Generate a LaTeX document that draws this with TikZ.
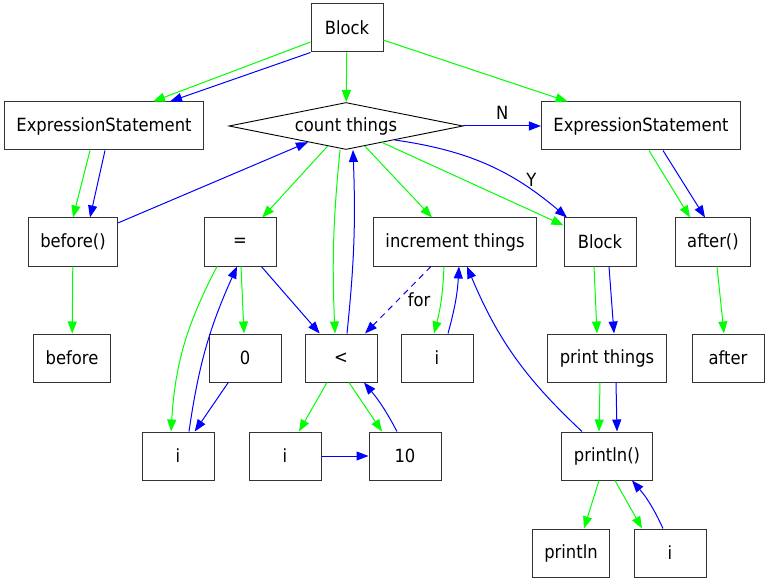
\documentclass[tikz,border=0pt]{standalone}
\usepackage{fontspec}
\setmainfont{DejaVu Sans}[FakeStretch=0.9]
\usetikzlibrary{shapes.geometric,arrows.meta}
\definecolor{astgreen}{RGB}{0,255,0}
\definecolor{cfgblue}{RGB}{0,0,255}

\begin{document}
\begin{tikzpicture}[x=1pt, y=-1pt,
    every node/.style={font=\fontsize{18.2}{22}\selectfont},
    box/.style={draw=black!80, line width=1pt, minimum width=72pt, minimum height=48pt, inner xsep=12pt},
    cond/.style={diamond, draw=black, line width=0.9pt, aspect=5, inner sep=2pt, minimum width=234pt, minimum height=47pt},
    ast/.style={draw=astgreen, line width=1pt, -{Triangle[length=12pt,width=9pt]}},
    cfg/.style={draw=cfgblue, line width=1pt, -{Triangle[length=12pt,width=9pt]}}]
  \useasboundingbox (0,0) rectangle (769,583);
  % nodes
  \node[box] (blk) at (347,28) {Block};
  \node[box] (exl) at (104,126) {ExpressionStatement};
  \node[cond] (ct) at (346,126) {count things};
  \node[box] (exr) at (641,126) {ExpressionStatement};
  \node[box] (bef) at (73,242) {before()};
  \node[box] (eq) at (240,242) {=};
  \node[box] (inc) at (455,242) {increment things};
  \node[box] (blk2) at (600,242) {Block};
  \node[box] (aft) at (713,242) {after()};
  \node[box] (befl) at (72,358) {before};
  \node[box] (zero) at (245,358) {0};
  \node[box] (lt) at (341,358) {<};
  \node[box] (iinc) at (437,358) {i};
  \node[box] (prt) at (607,358) {print things};
  \node[box] (aftl) at (728,358) {after};
  \node[box] (ieq) at (178,456) {i};
  \node[box] (ilt) at (285,456) {i};
  \node[box] (ten) at (405,456) {10};
  \node[box] (pln) at (607,456) {println()};
  \node[box] (plnl) at (571,553) {println};
  \node[box] (ipl) at (670,553) {i};
  % top block
  \draw[ast] ([yshift=-14pt]blk.west) -- ([xshift=49pt]exl.north);
  \draw[cfg] (blk.south west) -- ([xshift=66pt]exl.north);
  \draw[ast] (blk) -- (ct);
  \draw[ast] (blk) -- (exr);
  \draw[cfg] (ct) -- node[above=3pt]{N} (exr);
  % before
  \draw[ast] ([xshift=-14pt]exl.south) -- (bef.north);
  \draw[cfg] ([xshift=1pt]exl.south) -- ([xshift=17pt]bef.north);
  \draw[cfg] (bef) -- (ct);
  \draw[ast] (bef) -- (befl);
  % loop head
  \draw[ast] (ct) -- (eq);
  \draw[ast] ([xshift=-6pt]ct.south) to[bend right=4] ([xshift=-6pt]lt.north);
  \draw[cfg] ([xshift=6pt]lt.north) to[bend right=4] ([xshift=7pt]ct.south);
  \draw[ast] (ct) -- (inc);
  \draw[ast] (ct) -- (blk2);
  \draw[cfg] ([xshift=49pt,yshift=-14pt]ct.center) to[bend left=16] node[pos=0.78,above]{Y} ([xshift=-33pt]blk2.north);
  % i = 0
  \draw[ast] ([xshift=-23pt]eq.south) to[bend right=12] ([xshift=-7pt]ieq.north);
  \draw[cfg] ([xshift=11pt]ieq.north) to[bend left=8] ([xshift=-3pt]eq.south);
  \draw[ast] ([xshift=1pt]eq.south) -- ([xshift=-1pt]zero.north);
  \draw[cfg] (eq) -- (lt);
  \draw[cfg] (zero) -- (ieq);
  % i < 10
  \draw[ast] (lt) -- (ilt);
  \draw[ast] ([xshift=8pt]lt.south) -- ([xshift=-23pt]ten.north);
  \draw[cfg] ([xshift=-8pt]ten.north) to[bend right=6] ([xshift=23pt]lt.south);
  \draw[cfg] (ilt) -- (ten);
  % increment
  \draw[cfg, dash pattern=on 6pt off 5pt] (inc) -- node[right=6pt]{for} (lt);
  \draw[ast] ([xshift=-11pt]inc.south) to[bend left=6] ([xshift=-3pt]iinc.north);
  \draw[cfg] ([xshift=11pt]iinc.north) to[bend right=6] ([xshift=4pt]inc.south);
  % loop body
  \draw[ast] ([xshift=-6pt]blk2.south) -- ([xshift=-10pt]prt.north);
  \draw[cfg] ([xshift=9pt]blk2.south) -- ([xshift=7pt]prt.north);
  \draw[ast] ([xshift=-7pt]prt.south) -- ([xshift=-8pt]pln.north);
  \draw[cfg] ([xshift=9pt]prt.south) -- ([xshift=10pt]pln.north);
  \draw[cfg] ([xshift=-25pt]pln.north) to[bend left=12] ([xshift=12pt]inc.south);
  \draw[ast] ([xshift=-8pt]pln.south) -- ([xshift=13pt]plnl.north);
  \draw[ast] ([xshift=8pt]pln.south) -- ([xshift=-28pt]ipl.north);
  \draw[cfg] ([xshift=-7pt]ipl.north) to[bend right=8] ([xshift=25pt]pln.south);
  % after
  \draw[ast] ([xshift=8pt]exr.south) -- ([xshift=-23pt]aft.north);
  \draw[cfg] ([xshift=22pt]exr.south) -- ([xshift=-8pt]aft.north);
  \draw[ast] ([xshift=4pt]aft.south) -- ([xshift=-4pt]aftl.north);
\end{tikzpicture}
\end{document}
